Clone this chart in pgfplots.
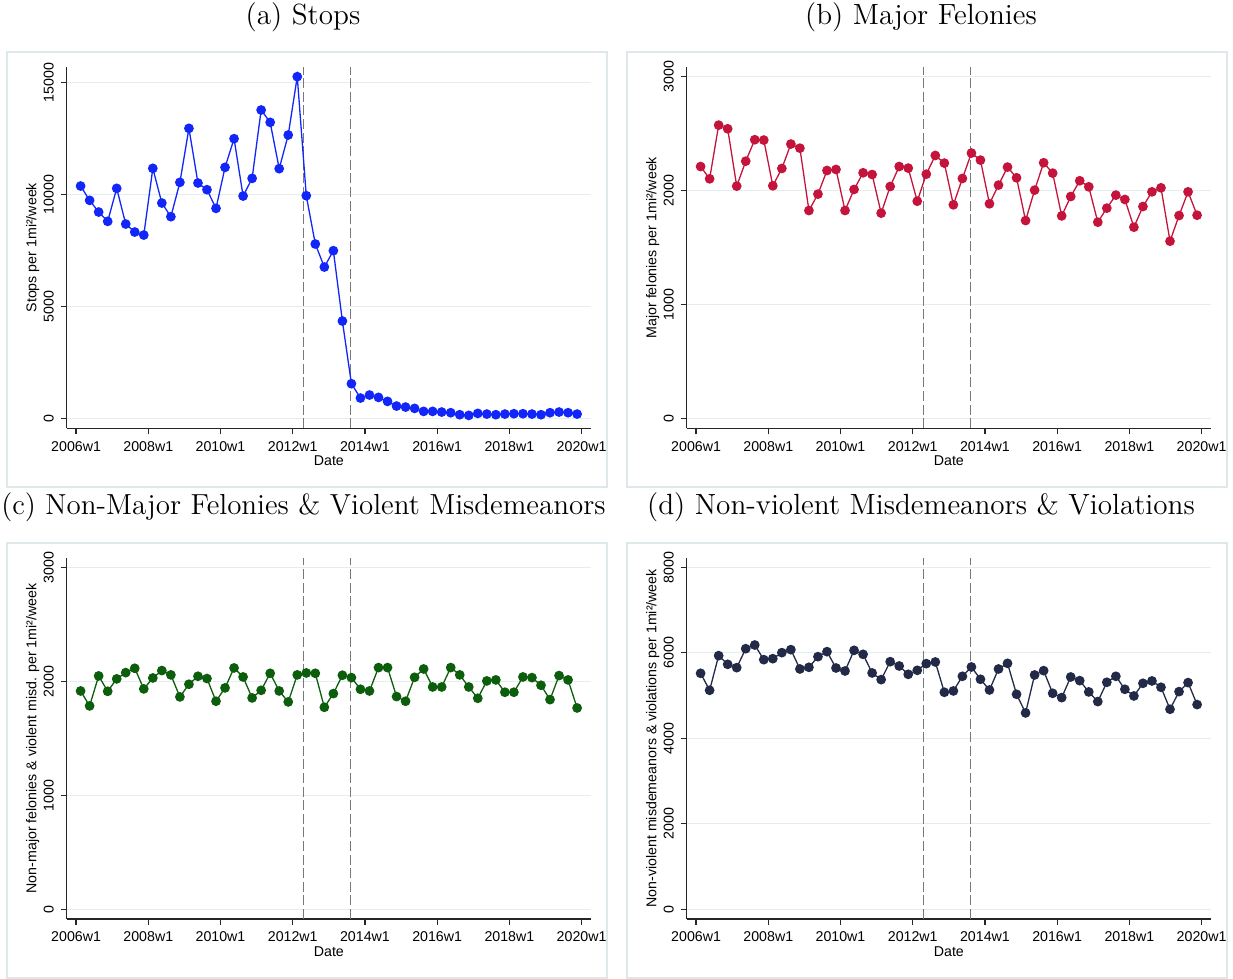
\documentclass[border=0pt]{standalone}
\usepackage{fontspec}
\usepackage{pgfplots}
\pgfplotsset{compat=1.18}
\usepackage{pgfplotstable}
\newfontfamily\axfont{Liberation Sans}
\definecolor{cA}{RGB}{18,38,250}
\definecolor{cB}{RGB}{196,20,60}
\definecolor{cC}{RGB}{12,94,12}
\definecolor{cD}{RGB}{34,42,72}
\definecolor{gridc}{RGB}{228,237,239}
\definecolor{boxc}{RGB}{222,232,234}
\definecolor{vlc}{RGB}{120,120,120}

\pgfplotstableread{
x a b c d
2006.125 10387 2212 1916 5522
2006.375 9747 2104 1785 5125
2006.625 9226 2575 2048 5935
2006.875 8810 2543 1913 5732
2007.125 10283 2040 2022 5654
2007.375 8690 2259 2077 6098
2007.625 8333 2447 2115 6184
2007.875 8199 2444 1934 5841
2008.125 11176 2043 2030 5864
2008.375 9628 2195 2095 6005
2008.625 9018 2409 2057 6075
2008.875 10551 2373 1864 5623
2009.125 12961 1826 1975 5662
2009.375 10521 1970 2045 5911
2009.625 10223 2177 2025 6028
2009.875 9390 2186 1826 5646
2010.125 11220 1826 1943 5576
2010.375 12500 2011 2118 6059
2010.625 9940 2157 2039 5966
2010.875 10729 2142 1855 5530
2011.125 13780 1803 1922 5374
2011.375 13229 2037 2071 5794
2011.625 11161 2212 1916 5693
2011.875 12664 2198 1820 5498
2012.125 15268 1908 2057 5592
2012.375 9955 2145 2074 5748
2012.625 7798 2309 2071 5787
2012.875 6771 2242 1773 5078
2013.125 7500 1876 1893 5109
2013.375 4360 2107 2054 5452
2013.625 1563 2330 2033 5670
2013.875 923 2268 1931 5382
2014.125 1057 1885 1916 5132
2014.375 952 2049 2121 5623
2014.625 774 2207 2121 5755
2014.875 565 2113 1867 5031
2015.125 521 1738 1826 4595
2015.375 461 2005 2036 5483
2015.625 327 2245 2109 5584
2015.875 327 2154 1951 5054
2016.125 298 1779 1951 4953
2016.375 268 1949 2121 5436
2016.625 179 2087 2057 5350
2016.875 149 2034 1951 5086
2017.125 238 1724 1852 4860
2017.375 208 1847 2004 5312
2017.625 179 1961 2013 5452
2017.875 208 1923 1905 5148
2018.125 223 1680 1905 4992
2018.375 223 1861 2039 5288
2018.625 208 1990 2033 5343
2018.875 179 2025 1966 5195
2019.125 268 1557 1840 4681
2019.375 298 1782 2051 5093
2019.625 268 1990 2013 5304
2019.875 208 1785 1767 4790
}\datatab

\pgfplotsset{
  panel/.style={
    scale only axis, width=262.15pt, height=180.65pt, anchor=south west,
    xmin=2005.74, xmax=2020.26,
    axis x line*=bottom, axis y line*=left,
    axis line style={black!85, line width=0.6pt},
    tick align=outside, major tick length=3pt,
    tick style={black!85, line width=0.6pt},
    xtick={2006,2008,2010,2012,2014,2016,2018,2020},
    xticklabels={2006w1,2008w1,2010w1,2012w1,2014w1,2016w1,2018w1,2020w1},
    scaled ticks=false,
    ymajorgrids, grid style={gridc, line width=0.6pt},
    tick label style={font=\axfont\fontsize{7.1}{8}\selectfont},
    label style={font=\axfont\fontsize{7.1}{8}\selectfont},
    /pgf/number format/assume math mode=true,
    /pgf/number format/1000 sep={},
    yticklabel style={rotate=90, anchor=south},
    xlabel={Date},
    xlabel style={at={(axis description cs:0.5,-0.09)}, anchor=center},
    ylabel style={at={(axis description cs:-0.065,0.5)}, anchor=center, rotate=0},
  },
  ser/.style={color=#1, line width=0.65pt, mark=*, mark size=2.1pt, mark options={solid, fill=#1, draw=#1}},
  vl/.style={vlc, line width=0.6pt, dash pattern=on 5pt off 1.8pt},
}

\begin{document}
\begin{tikzpicture}
\useasboundingbox (0,0) rectangle (616.5pt,489.5pt);
\draw[boxc, line width=0.6pt] (3.5pt,246pt) rectangle (303.5pt,463.5pt);
\draw[boxc, line width=0.6pt] (313.5pt,246pt) rectangle (613.5pt,463.5pt);
\draw[boxc, line width=0.6pt] (3.5pt,0.5pt) rectangle (303.5pt,218pt);
\draw[boxc, line width=0.6pt] (313.5pt,0.5pt) rectangle (613.5pt,218pt);

\node[font=\fontsize{14.6}{17}\selectfont] at (151.5pt,481pt) {(a) Stops};
\node[font=\fontsize{14.6}{17}\selectfont] at (460.5pt,481pt) {(b) Major Felonies};
\node[font=\fontsize{14.5}{17}\selectfont] at (151.7pt,236pt) {(c) Non-Major Felonies \& Violent Misdemeanors};
\node[font=\fontsize{14.6}{17}\selectfont] at (460.5pt,236pt) {(d) Non-violent Misdemeanors \& Violations};

% (a)
\begin{axis}[panel, at={(33.35pt,275.35pt)}, ymin=-427, ymax=15700,
  ytick={0,5000,10000,15000}, ylabel={Stops per 1mi²/week}]
\addplot[vl] coordinates {(2012.30,-427) (2012.30,15700)};
\addplot[vl] coordinates {(2013.60,-427) (2013.60,15700)};
\addplot[ser=cA] table[x=x, y=a] {\datatab};
\end{axis}

% (b)
\begin{axis}[panel, at={(343.35pt,275.35pt)}, ymin=-84, ymax=3085,
  ytick={0,1000,2000,3000}, ylabel={Major felonies per 1mi²/week}]
\addplot[vl] coordinates {(2012.30,-84) (2012.30,3085)};
\addplot[vl] coordinates {(2013.60,-84) (2013.60,3085)};
\addplot[ser=cB] table[x=x, y=b] {\datatab};
\end{axis}

% (c)
\begin{axis}[panel, at={(33.35pt,30pt)}, ymin=-84, ymax=3085,
  ytick={0,1000,2000,3000}, ylabel={Non-major felonies \& violent misd. per 1mi²/week}]
\addplot[vl] coordinates {(2012.30,-84) (2012.30,3085)};
\addplot[vl] coordinates {(2013.60,-84) (2013.60,3085)};
\addplot[ser=cC] table[x=x, y=c] {\datatab};
\end{axis}

% (d)
\begin{axis}[panel, at={(343.35pt,30pt)}, ymin=-227, ymax=8227,
  ytick={0,2000,4000,6000,8000}, ylabel={Non-violent misdemeanors \& violations per 1mi²/week}]
\addplot[vl] coordinates {(2012.30,-227) (2012.30,8227)};
\addplot[vl] coordinates {(2013.60,-227) (2013.60,8227)};
\addplot[ser=cD] table[x=x, y=d] {\datatab};
\end{axis}
\end{tikzpicture}
\end{document}
